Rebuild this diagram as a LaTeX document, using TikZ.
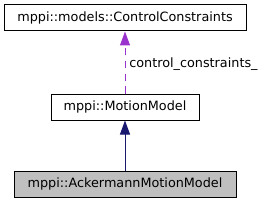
\documentclass[tikz,border=0pt]{standalone}
\usepackage{fontspec}
\setmainfont{DejaVu Sans}
\usetikzlibrary{arrows.meta}
\definecolor{usecol}{HTML}{9A32CD}
\definecolor{inhcol}{HTML}{191970}
\definecolor{boxgrey}{HTML}{BFBFBF}
\begin{document}
\begin{tikzpicture}[x=0.75pt,y=-0.75pt,
  txt/.style={font=\fontsize{9.6}{11.5}\selectfont},
  cls/.style={draw=black,line width=0.75pt,rectangle,inner sep=0pt,
    minimum height=19.5pt,txt},
  uses/.style={draw=usecol,line width=0.75pt,dash pattern=on 5.5pt off 4pt,
    -{Triangle[length=10.5pt,width=7.5pt,fill=usecol]}},
  inherits/.style={draw=inhcol,line width=0.75pt,
    -{Triangle[length=10.5pt,width=7.5pt,fill=inhcol]}}]
\useasboundingbox (0,0) rectangle (267,203);
\fill[white] (0,0) rectangle (267,203);
\node[cls,minimum width=181.5pt] (top) at (125,18) {mppi::models::ControlConstraints};
\node[cls,minimum width=111pt] (mid) at (125,107) {mppi::MotionModel};
\node[cls,minimum width=166.5pt,fill=boxgrey] (bot) at (125,184) {mppi::AckermannMotionModel};
\draw[uses] (mid.north) -- (top.south);
\draw[inherits] (bot.north) -- (mid.south);
\node[anchor=base west,inner sep=0pt,txt] (lbl) at (129,67) {control\_constraints\_};
\end{tikzpicture}
\end{document}
